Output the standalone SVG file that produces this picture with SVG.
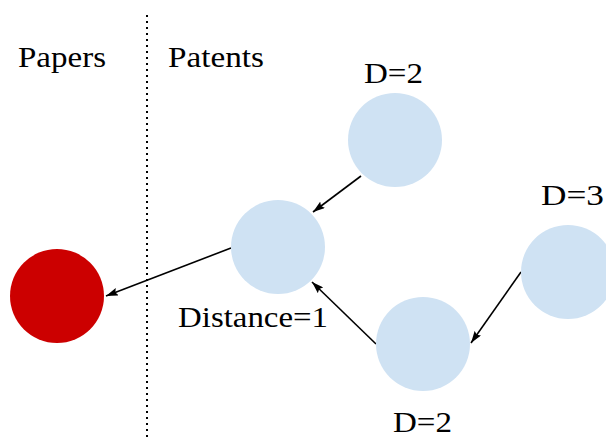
<svg xmlns="http://www.w3.org/2000/svg" width="606" height="442" viewBox="0 0 606 442">
<style>
.lbl{font-family:'Liberation Serif','DejaVu Serif',serif;font-size:29px;fill:#000}
.pat{fill:#cfe2f3}
.edge{stroke:#000;stroke-width:1.6;fill:none;marker-end:url(#ah)}
</style>
<defs>
<marker id="ah" viewBox="0 0 12 8" refX="12" refY="4" markerWidth="12" markerHeight="8" markerUnits="userSpaceOnUse" orient="auto">
<path d="M0,0 L12,4 L0,8 L2,4 Z" fill="#000"/>
</marker>
</defs>
<rect width="606" height="442" fill="#fff"/>
<line x1="147" y1="15" x2="147" y2="438" stroke="#000" stroke-width="2" stroke-dasharray="2,4"/>
<text class="lbl" x="18" y="67" textLength="88" lengthAdjust="spacingAndGlyphs">Papers</text>
<text class="lbl" x="168" y="67" textLength="96" lengthAdjust="spacingAndGlyphs">Patents</text>
<g id="connectors">
<line class="edge" x1="231" y1="248" x2="106" y2="296"/>
<line class="edge" x1="361" y1="176" x2="313" y2="212"/>
<line class="edge" x1="376" y1="344" x2="312" y2="282"/>
<line class="edge" x1="521" y1="272" x2="471" y2="343"/>
</g>
<g id="paper"><circle cx="57" cy="296" r="47" fill="#cc0000"/></g>
<g id="p1"><circle class="pat" cx="278" cy="247" r="47"/><text class="lbl" x="178" y="327" textLength="150" lengthAdjust="spacingAndGlyphs">Distance=1</text></g>
<g id="p2top"><circle class="pat" cx="395" cy="140" r="47"/><text class="lbl" x="364" y="83" textLength="59" lengthAdjust="spacingAndGlyphs">D=2</text></g>
<g id="p2bot"><circle class="pat" cx="423" cy="344" r="47"/><text class="lbl" x="393" y="432" textLength="59" lengthAdjust="spacingAndGlyphs">D=2</text></g>
<g id="p3"><circle class="pat" cx="568" cy="272" r="47"/><text class="lbl" x="541" y="205" textLength="63" lengthAdjust="spacingAndGlyphs">D=3</text></g>
</svg>
